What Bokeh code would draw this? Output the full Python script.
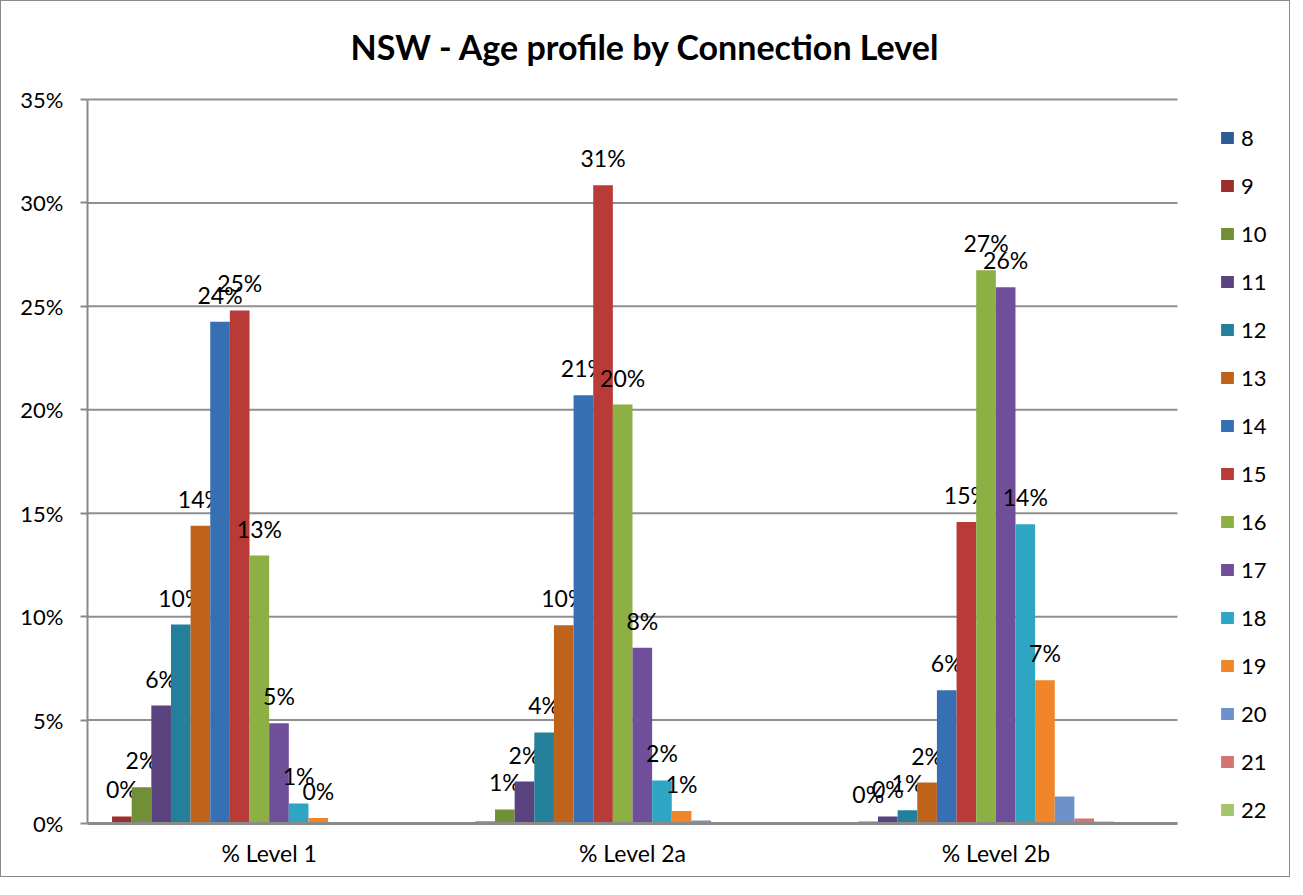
from bokeh.plotting import figure
from bokeh.models import (Range1d, Legend, LegendItem, NumeralTickFormatter,
                          ColumnDataSource, FixedTicker, Label)
from bokeh.transform import dodge
from bokeh.core.properties import value
from bokeh.embed import file_html
from bokeh.resources import INLINE

title_text = "NSW - Age profile by Connection Level"
categories = ["% Level 1", "% Level 2a", "% Level 2b"]
ages = ["8", "9", "10", "11", "12", "13", "14", "15", "16", "17", "18", "19",
        "20", "21", "22", "23", "24", "25"]
legend_ages = ages[:15]
y_ticks = [0.0, 0.05, 0.10, 0.15, 0.20, 0.25, 0.30, 0.35]

level_1 = [0.0007, 0.0034, 0.0175, 0.0570, 0.0962, 0.1440, 0.2425, 0.2480, 0.1295,
           0.0485, 0.0097, 0.0026, 0.0005, 0.0, 0.0, 0.0, 0.0, 0.0]
level_2a = [0.0, 0.0010, 0.0068, 0.0203, 0.0440, 0.0958, 0.2070, 0.3085, 0.2025,
            0.0850, 0.0208, 0.0060, 0.0015, 0.0, 0.0, 0.0, 0.0, 0.0]
level_2b = [0.0, 0.0, 0.0010, 0.0034, 0.0064, 0.0198, 0.0644, 0.1457, 0.2675,
            0.2592, 0.1447, 0.0692, 0.0131, 0.0024, 0.0010, 0.0005, 0.0, 0.0]

labels_1 = ["", "0%", "2%", "6%", "10%", "14%", "24%", "25%", "13%", "5%", "1%", "0%",
            "", "", "", "", "", ""]
labels_2a = ["", "", "1%", "2%", "4%", "10%", "21%", "31%", "20%", "8%", "2%", "1%",
             "", "", "", "", "", ""]
labels_2b = ["", "", "0%", "0%", "1%", "2%", "6%", "15%", "27%", "26%", "14%", "7%",
             "", "", "", "", "", ""]

colors = ["#2d5c94", "#9a2f2d", "#708f36", "#5b4380", "#24809a", "#c0631a",
          "#376fb5", "#b93b38", "#8cb043", "#6f4f99", "#2fa5c4", "#f0852a",
          "#6d92c9", "#d07573", "#a5c56d", "#8a73ad", "#6fbcd3", "#f5a865"]

FONT = "Lato"

ncat = len(categories)
y_top = y_ticks[-1]
cat_x = [i + 0.5 for i in range(ncat)]
# The frame covers the title and legend areas too; the plot area is x 0..ncat, y 0..y_top
x_end = ncat * 1204.0 / 1090.0
y_end = y_top * 822.0 / 724.0

p = figure(x_range=Range1d(0, x_end), y_range=Range1d(0, y_end),
           width=1290, height=877, output_backend="svg", toolbar_location=None,
           min_border_left=86, min_border_right=0, min_border_top=0, min_border_bottom=55)
p.styles = {"border": "1px solid #8a8a8a"}

p.outline_line_color = None
p.background_fill_color = "white"
p.border_fill_color = "white"

p.xgrid.visible = False
p.ygrid.visible = False
p.segment(x0=0, x1=ncat, y0=y_ticks, y1=y_ticks, line_color="#8f8f8f", line_width=2)

p.yaxis.ticker = FixedTicker(ticks=y_ticks)
p.yaxis.bounds = (0, y_top)
p.yaxis.formatter = NumeralTickFormatter(format="0%")
p.yaxis.axis_line_color = "#8a8a8a"
p.yaxis.axis_line_width = 2
p.yaxis.major_tick_line_color = "#8a8a8a"
p.yaxis.major_tick_line_width = 2
p.yaxis.major_tick_out = 7
p.yaxis.major_tick_in = 0
p.yaxis.minor_tick_line_color = None
p.yaxis.major_label_text_font = FONT
p.yaxis.major_label_text_font_size = "22px"
p.yaxis.major_label_text_color = "#000000"
p.yaxis.major_label_standoff = 17

p.xaxis.ticker = FixedTicker(ticks=cat_x)
p.xaxis.major_label_overrides = {x: c for x, c in zip(cat_x, categories)}
p.xaxis.bounds = (0, ncat)
p.xaxis.axis_line_color = "#8a8a8a"
p.xaxis.axis_line_width = 3
p.xaxis.major_tick_line_color = None
p.xaxis.major_tick_out = 0
p.xaxis.major_tick_in = 0
p.xaxis.minor_tick_line_color = None
p.xaxis.major_label_text_font = FONT
p.xaxis.major_label_text_font_size = "23px"
p.xaxis.major_label_text_color = "#000000"
p.xaxis.major_label_standoff = 15

n = len(ages)
slot = 1.0 / (n + 0.5)
renderers = []
for k in range(n):
    src = ColumnDataSource(dict(
        x=cat_x,
        top=[level_1[k], level_2a[k], level_2b[k]],
        label=[labels_1[k], labels_2a[k], labels_2b[k]],
    ))
    off = (k - (n - 1) / 2.0) * slot
    r = p.vbar(x=dodge("x", off), top="top", width=slot, source=src,
               fill_color=colors[k], line_color=None)
    renderers.append(r)
    p.text(x=dodge("x", off), y="top", text="label", source=src,
           text_align="center", text_baseline="alphabetic", y_offset=-27,
           text_font=value(FONT), text_font_size="23px", text_color="#000000")

title = Label(x=558, y=777, x_units="screen", y_units="screen", text=title_text,
              text_align="center", text_baseline="middle", text_font=FONT,
              text_font_style="bold", text_font_size="34px", text_color="#000000")
p.add_layout(title)

legend = Legend(items=[LegendItem(label=legend_ages[k], renderers=[renderers[k]])
                       for k in range(len(legend_ages))],
                location=(1132, 0))
legend.background_fill_alpha = 0
legend.border_line_color = None
legend.padding = 0
legend.margin = 0
legend.spacing = 21
legend.glyph_width = 16
legend.glyph_height = 15
legend.label_height = 27
legend.label_standoff = 6
legend.label_text_font = FONT
legend.label_text_font_size = "22px"
legend.label_text_color = "#000000"
p.add_layout(legend)

open("out.html", "w").write(file_html(p, INLINE))
